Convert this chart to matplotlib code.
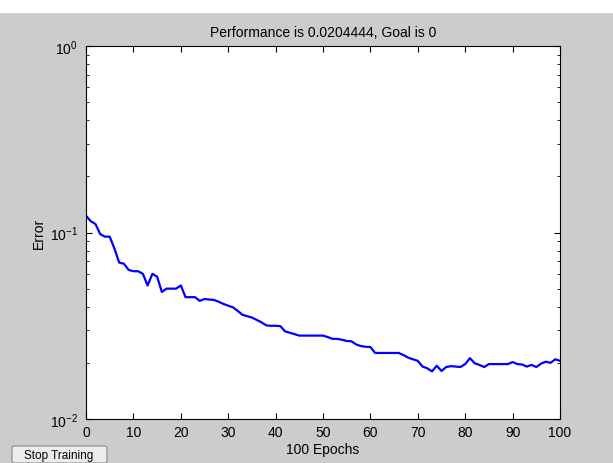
import matplotlib
matplotlib.use("Agg")
import matplotlib.pyplot as plt
from matplotlib.patches import Rectangle, FancyBboxPatch
from matplotlib.ticker import LogLocator, NullFormatter, MultipleLocator

plt.rcParams['font.family'] = ['Liberation Sans', 'DejaVu Sans']
plt.rcParams['mathtext.default'] = 'regular'

# ---- datos ----
epochs = list(range(101))
error = [
    0.123, 0.115, 0.111, 0.098, 0.095, 0.095, 0.082, 0.069, 0.068, 0.063,
    0.062, 0.062, 0.060, 0.052, 0.060, 0.058, 0.048, 0.050, 0.050, 0.050,
    0.052, 0.045, 0.045, 0.045, 0.043, 0.044, 0.0437, 0.0435, 0.0425, 0.0414,
    0.0405, 0.0397, 0.0380, 0.0362, 0.0356, 0.0350, 0.0340, 0.0330, 0.0318, 0.0316,
    0.0316, 0.0315, 0.0295, 0.0290, 0.0285, 0.0280, 0.0280, 0.0280, 0.0280, 0.0280,
    0.0280, 0.0275, 0.0269, 0.0269, 0.0266, 0.0262, 0.0261, 0.0251, 0.0246, 0.0244,
    0.0243, 0.0226, 0.0226, 0.0226, 0.0226, 0.0226, 0.0226, 0.0220, 0.0213, 0.0209,
    0.0205, 0.0191, 0.0187, 0.0180, 0.0193, 0.0181, 0.0190, 0.0192, 0.0191, 0.0190,
    0.0197, 0.0212, 0.0199, 0.0195, 0.0190, 0.0197, 0.0197, 0.0197, 0.0197, 0.0197,
    0.0202, 0.0197, 0.0196, 0.0191, 0.0195, 0.0190, 0.0198, 0.0203, 0.0200, 0.0209,
    0.0205,
]
title_text = "Performance is 0.0204444, Goal is 0"
x_label = "100 Epochs"
y_label = "Error"
button_text = "Stop Training"

fig = plt.figure(figsize=(6.13, 4.64), dpi=100, facecolor="#cccccc")

# franja blanca superior
fig.patches.append(Rectangle((0, 1 - 14 / 464), 1, 14 / 464, transform=fig.transFigure,
                             facecolor="white", edgecolor="none", zorder=0))

ax = fig.add_axes([86 / 613, 1 - 420 / 464, 474 / 613, 373 / 464])
ax.semilogy(epochs, error, color="#0000ff", linewidth=1.6)

ax.set_xlim(0, 100)
ax.set_ylim(1e-2, 1e0)
ax.xaxis.set_major_locator(MultipleLocator(10))
ax.yaxis.set_major_locator(LogLocator(base=10))
ax.yaxis.set_minor_locator(LogLocator(base=10, subs=range(2, 10)))
ax.yaxis.set_minor_formatter(NullFormatter())

ax.tick_params(which="both", direction="in", top=True, right=True,
               labelsize=10, colors="black")
ax.tick_params(which="major", length=4, width=0.8, pad=4)
ax.tick_params(which="minor", length=2.5, width=0.6)
ax.tick_params(axis="y", which="major", pad=6)
for s in ax.spines.values():
    s.set_linewidth(0.8)

ax.set_title(title_text, fontsize=10, pad=7)
ax.set_xlabel(x_label, fontsize=10)
ax.set_ylabel(y_label, fontsize=10)
ax.xaxis.set_label_coords(0.5, -0.063)
ax.yaxis.set_label_coords(-0.084, 0.5)

# botón "Stop Training"
fig.patches.append(FancyBboxPatch((12 / 613, 0), 95 / 613, 17 / 464,
                                  boxstyle="round,pad=0,rounding_size=0.004",
                                  transform=fig.transFigure,
                                  facecolor="#ececec", edgecolor="#8a8a8a", linewidth=0.8))
fig.text(59 / 613, 8 / 464, button_text, fontsize=8.5, ha="center", va="center")

fig.savefig("out.png", dpi=100, facecolor=fig.get_facecolor())
